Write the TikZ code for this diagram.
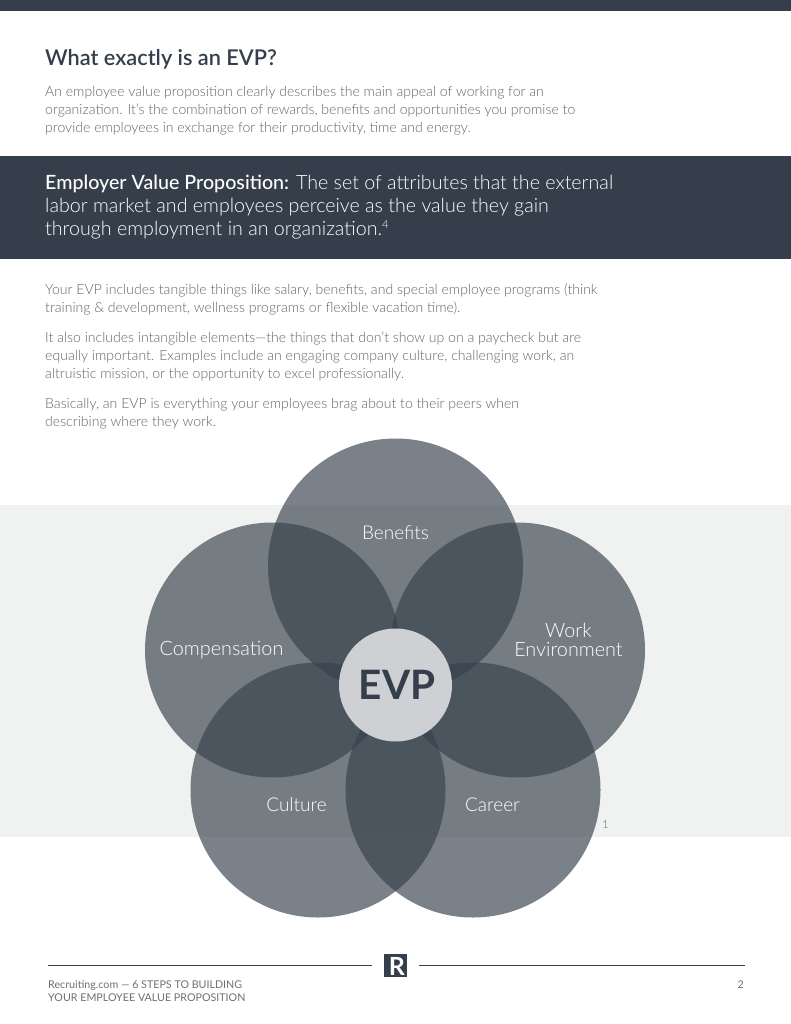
\documentclass[tikz,border=0pt]{standalone}
\usepackage{fontspec}
\setmainfont{Lato}
\newfontfamily\lightfont{Lato Light}
\newfontfamily\mediumfont{Lato Medium}
\newfontfamily\semifont{Lato Semibold}
\usetikzlibrary{positioning}
\definecolor{Slate}{HTML}{353F4B}
\definecolor{Petalgray}{HTML}{36414B}
\definecolor{Bodygray}{HTML}{5F666E}
\definecolor{Footgray}{HTML}{6B7178}
\definecolor{Bandgray}{HTML}{F0F2F1}
\definecolor{Hubgray}{HTML}{D4D6D9}
\tikzset{
  x=1pt, y=-1pt,
  petal/.style={circle, draw=none, fill=Petalgray, fill opacity=.66, minimum size=255pt, inner sep=0pt},
  petallabel/.style={text=white, align=center, font=\lightfont\fontsize{19}{19.5}\selectfont},
  widelabel/.style={text=white, align=center, font=\lightfont\fontsize{19.8}{18.5}\selectfont},
  bodytext/.style={anchor=base west, inner sep=0pt, align=left, text=Bodygray, font=\lightfont\fontsize{14.05}{18}\selectfont},
  footertext/.style={anchor=base west, inner sep=0pt, align=left, text=Footgray, font=\fontsize{10.7}{13}\selectfont}
}
\begin{document}
\begin{tikzpicture}
    \useasboundingbox (0,0) rectangle (791,1024);
    \fill[white] (0,0) rectangle (791,1024);
    \fill[Slate] (0,0) rectangle (791,11);
    \fill[Slate] (0,156) rectangle (791,259);
    \fill[Bandgray] (0,505) rectangle (791,837);

    \node[anchor=base west, inner sep=0pt, text=Slate, font=\semifont\fontsize{21.7}{24}\selectfont] (title) at (45,66) {What exactly is an EVP?};
    \node[bodytext] (intro) at (45,132.8) {An employee value proposition clearly describes the main appeal of working for an\\
      organization. It’s the combination of rewards, benefits and opportunities you promise to\\
      provide employees in exchange for their productivity, time and energy.};
    \node[anchor=base west, inner sep=0pt, align=left, text=white, font=\lightfont\fontsize{19.65}{23}\selectfont] (definition) at (45,235.5) {{\mediumfont Employer Value Proposition:} The set of attributes that the external\\
      labor market and employees perceive as the value they gain\\
      through employment in an organization.\raisebox{7pt}{\fontsize{11}{11}\selectfont 4}};
    \node[bodytext] (tangible) at (45,312) {Your EVP includes tangible things like salary, benefits, and special employee programs (think\\
      training \& development, wellness programs or flexible vacation time).};
    \node[bodytext] (intangible) at (45,378) {It also includes intangible elements—the things that don’t show up on a paycheck but are\\
      equally important. Examples include an engaging company culture, challenging work, an\\
      altruistic mission, or the opportunity to excel professionally.};
    \node[bodytext] (basically) at (45,426) {Basically, an EVP is everything your employees brag about to their peers when\\
      describing where they work.};

    \node[petal] (benefits) at (395.5,566) {};
    \node[petal] (compensation) at (272.5,650) {};
    \node[petal] (environment) at (517.5,650) {};
    \node[petal] (culture) at (318,790) {};
    \node[petal] (career) at (473,790) {};
    \node[circle, fill=Hubgray, fill opacity=.96, minimum size=113pt, inner sep=0pt] (hub) at (395.5,685) {};
    \node[text=Slate, inner sep=0pt, font=\fontsize{40.5}{41}\selectfont\bfseries] (evp) at (397,685) {EVP};

    \node[petallabel] (benefitslabel) at (395.5,533) {Benefits};
    \node[widelabel] (compensationlabel) at (221.5,650.5) {Compensation};
    \node[widelabel] (environmentlabel) at (568.5,640) {Work\\Environment};
    \node[petallabel] (culturelabel) at (296.5,805) {Culture};
    \node[petallabel] (careerlabel) at (492.5,805) {Career};
    \node[text=Bodygray, inner sep=0pt, font=\lightfont\fontsize{11}{11}\selectfont] (note) at (605.5,825) {1};

    \node[fill=Slate, minimum width=23pt, minimum height=23.5pt, inner sep=0pt] (logo) at (395.5,965.5) {};
    \node[text=white, inner sep=0pt, font=\fontsize{25}{25}\selectfont\bfseries] (logoletter) at (397,966.5) {R};
    \coordinate (ruleleftstart) at (48,965.5);
    \coordinate (ruleleftend) at (372,965.5);
    \coordinate (rulerightstart) at (419,965.5);
    \coordinate (rulerightend) at (745,965.5);
    \draw[Slate, line width=1pt] (ruleleftstart) -- (ruleleftend);
    \draw[Slate, line width=1pt] (rulerightstart) -- (rulerightend);
    \node[footertext] (footer) at (48,1001) {Recruiting.com — 6 STEPS TO BUILDING\\YOUR EMPLOYEE VALUE PROPOSITION};
    \node[footertext, anchor=base east] (page) at (744,988) {2};
  \end{tikzpicture}
\end{document}
